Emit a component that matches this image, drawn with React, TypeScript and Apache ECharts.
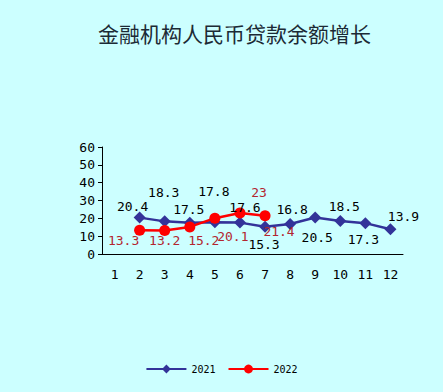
import React, { useEffect, useRef } from "react";
import * as echarts from "echarts";

const months = ["1", "2", "3", "4", "5", "6", "7", "8", "9", "10", "11", "12"];
const values2021 = [null, 20.4, 18.3, 17.5, 17.8, 17.6, 15.3, 16.8, 20.5, 18.5, 17.3, 13.9];
const values2022 = [null, 13.3, 13.2, 15.2, 20.1, 23, 21.4, null, null, null, null, null];
const yTicks = [0, 10, 20, 30, 40, 50, 60];

// label offsets relative to each point (layout only)
const offsets2021: [number, number][] = [
  [0, 0], [-7, -11], [-1, -29], [-1, -13], [-1, -31], [5, -15], [-1, 18], [2, -15], [2, 20], [4, -15], [-2, 16], [13, -13],
];
const offsets2022: [number, number][] = [
  [0, 0], [-16, 10], [0, 10], [14, 14], [18, 18], [19, -20], [14, 16], [0, 0], [0, 0], [0, 0], [0, 0], [0, 0],
];

const FONT = "'DejaVu Sans Mono', monospace";

export default function App() {
  const ref = useRef<HTMLDivElement>(null);
  useEffect(() => {
    if (!ref.current) return;
    const chart = echarts.init(ref.current, null, { renderer: "svg" });
    const mk = (vals: (number | null)[], offs: [number, number][], color: string) =>
      vals.map((v, i) =>
        v == null
          ? null
          : {
              value: v,
              label: {
                show: true,
                position: "inside",
                align: "center",
                verticalAlign: "middle",
                offset: offs[i],
                color,
                fontFamily: FONT,
                fontSize: 13,
              },
            }
      );
    chart.setOption({
      animation: false,
      backgroundColor: "#ccffff",
      title: {
        text: "金融机构人民币贷款余额增长",
        left: 93,
        top: 17,
        textStyle: {
          fontFamily: "'Noto Sans CJK SC', sans-serif",
          fontWeight: "normal",
          fontSize: 21,
          color: "#1c2a35",
        },
      },
      legend: {
        bottom: 13,
        left: "center",
        itemWidth: 40,
        itemHeight: 11,
        itemGap: 12,
        textStyle: { fontFamily: FONT, fontSize: 10, color: "#000" },
        data: ["2021", "2022"],
      },
      grid: { left: 102, right: 40, top: 147, bottom: 138 },
      xAxis: {
        type: "category",
        data: months,
        boundaryGap: true,
        axisLine: { lineStyle: { color: "#000", width: 1 } },
        axisTick: { inside: true, length: 5, lineStyle: { color: "#000" } },
        axisLabel: { margin: 14, color: "#000", fontFamily: FONT, fontSize: 13 },
      },
      yAxis: {
        type: "value",
        min: yTicks[0],
        max: yTicks[yTicks.length - 1],
        interval: 10,
        axisLine: { show: true, lineStyle: { color: "#000", width: 1 } },
        axisTick: { show: true, length: 4, lineStyle: { color: "#000" } },
        splitLine: { show: false },
        axisLabel: { margin: 7, color: "#000", fontFamily: FONT, fontSize: 13 },
      },
      series: [
        {
          name: "2021",
          type: "line",
          data: mk(values2021, offsets2021, "#000"),
          symbol: "diamond",
          symbolSize: 12,
          color: "#333399",
          lineStyle: { width: 2.5, color: "#333399" },
          itemStyle: { color: "#333399" },
        },
        {
          name: "2022",
          type: "line",
          data: mk(values2022, offsets2022, "#b3262f"),
          symbol: "circle",
          symbolSize: 11,
          color: "#ff0000",
          lineStyle: { width: 2.5, color: "#ff0000" },
          itemStyle: { color: "#ff0000" },
        },
      ],
    });
    return () => chart.dispose();
  }, []);
  return <div ref={ref} style={{ width: 443, height: 392, position: "absolute", left: 0, top: 0 }} />;
}
